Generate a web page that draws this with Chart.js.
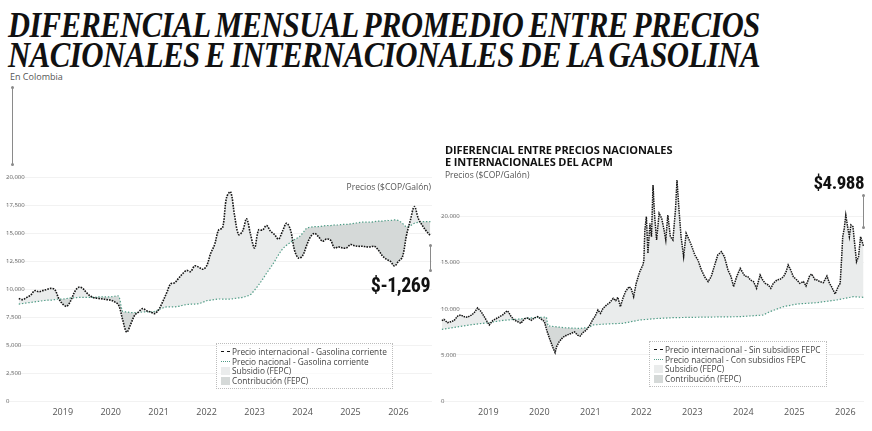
<!DOCTYPE html>
<html>
<head>
<meta charset="utf-8">
<script src="https://cdn.jsdelivr.net/npm/chart.js@4.4.1/dist/chart.umd.min.js"></script>
<style>
  html, body { margin: 0; padding: 0; background: #fff; }
  body { width: 872px; height: 431px; position: relative; overflow: hidden; font-family: "Open Sans", sans-serif; color: #555; }
  canvas { position: absolute; }
  .abs { position: absolute; white-space: nowrap; z-index: 2; }
  #title { left: 8px; top: 11px; font-family: "Liberation Serif", serif; font-weight: bold; font-style: italic;
           font-size: 35px; line-height: 30px; color: #111; letter-spacing: -0.6px; word-spacing: -2px; }
  #title div { transform-origin: 0 0; display: inline-block; }
  .small { font-size: 8.5px; color: #555; }
  .big { font-family: "Liberation Sans Narrow", "Roboto Condensed", "DejaVu Sans Condensed", sans-serif; font-weight: bold; color: #111; letter-spacing: -0.5px; }
  #subtitle { left: 445px; top: 144px; font-weight: bold; font-size: 11px; line-height: 12.3px; color: #111; letter-spacing: -0.1px; }
  .vline { position: absolute; width: 0; border-left: 1px solid #8a8a8a; z-index: 2; }
  .vline::before, .vline::after { content: ""; position: absolute; left: -2px; width: 3px; height: 3px; border-radius: 50%; background: #8a8a8a; }
  .vline::before { top: -1px; }
  .vline::after { bottom: -1px; }
  .legend { position: absolute; border: 1px dotted #bdbdbd; padding: 3px 6px 3px 4px; font-size: 8.3px; line-height: 9.6px; color: #444; z-index: 2; background: rgba(255,255,255,0.6); }
  .legend .row { display: flex; align-items: center; white-space: nowrap; }
  .legend .mk { width: 9px; margin-right: 2px; flex: none; }
  .legend .ln { height: 0; border-top-width: 1.5px; border-top-style: dotted; }
  .legend .sq { height: 8px; }
</style>
</head>
<body>
<div id="title" class="abs"></div>
<div class="abs small" style="left:10px; top:70px; font-size:9px;">En Colombia</div>
<div class="vline" style="left:12px; top:87px; height:78px;"></div>

<div class="abs small" style="right:441px; top:181px;">Precios ($COP/Galón)</div>
<div class="abs big" style="right:442px; top:273px; font-size:20px;">$-1,269</div>
<div class="vline" style="left:430px; top:245px; height:26px;"></div>

<div id="subtitle" class="abs"></div>
<div class="abs small" style="left:445px; top:169px;">Precios ($COP/Galón)</div>
<div class="abs big" style="right:8px; top:171px; font-size:19px;">$4.988</div>
<div class="vline" style="left:863px; top:195px; height:33px;"></div>

<div id="gasLegend" class="legend" style="left:216px; top:343px; width:165px;"></div>
<div id="acpmLegend" class="legend" style="left:649px; top:341px; width:166px;"></div>

<canvas id="gasChart" style="left:0; top:160px; width:436px; height:270px;"></canvas>
<canvas id="acpmChart" style="left:436px; top:160px; width:436px; height:270px;"></canvas>

<script>
// Titles
const titleLines = ['DIFERENCIAL MENSUAL PROMEDIO ENTRE PRECIOS', 'NACIONALES E INTERNACIONALES DE LA GASOLINA'];
const subtitleLines = ['DIFERENCIAL ENTRE PRECIOS NACIONALES', 'E INTERNACIONALES DEL ACPM'];

// Gasolina: monthly, first month Feb 2018
const gasFirstMonth = [2018, 2];
const gasIntl = [
  9200, 9100, 9300, 9500, 9900, 9800, 9900, 10000, 10100, 10000, 9200, 8700,
  8500, 9000, 9800, 10200, 10100, 9700, 9400, 9250, 9200, 9150, 9100, 9050,
  8900, 8600, 7300, 6200, 6900, 7700, 8000, 8300, 8100, 8000, 7850, 8200,
  8900, 9700, 10500, 10600, 11000, 11400, 11700, 11600, 12100, 12000, 11800, 12100,
  13200, 14000, 15300, 15500, 18200, 18700, 16600, 14900, 15200, 16300, 14900, 13700,
  15300, 15300, 15700, 15200, 14900, 14500, 15200, 15900, 15300, 13500, 12800, 13000,
  13900, 14700, 15000, 14700, 14300, 14500, 14400, 13700, 13800, 13700, 13700, 14000,
  13900, 13850, 13850, 13800, 13800, 13850, 13500, 13000, 12700, 12500, 12100, 12500,
  12900, 14800, 16200, 17400, 16300, 15700, 15200, 14800
];
const gasNat = [
  8700, 8750, 8800, 8850, 8900, 8950, 9000, 9050, 9050, 9100, 9150, 9150,
  9200, 9250, 9250, 9300, 9300, 9300, 9300, 9300, 9350, 9350, 9350, 9350,
  9400, 9400, 8050, 8000, 7950, 7950, 7950, 8000, 8000, 8000, 8050, 8200,
  8350, 8450, 8450, 8450, 8500, 8600, 8650, 8700, 8700, 8750, 8850, 9000,
  9050, 9100, 9150, 9150, 9150, 9150, 9200, 9250, 9300, 9400, 9550, 9950,
  10400, 10900, 11450, 11950, 12500, 13100, 13600, 13950, 14200, 14450, 14650, 15000,
  15450, 15550, 15600, 15600, 15650, 15700, 15700, 15750, 15750, 15800, 15800, 15850,
  15900, 15950, 16000, 16000, 16000, 16050, 16100, 16100, 16150, 16150, 16200, 16150,
  15900, 15600, 15700, 15900, 16000, 16050, 16050, 16050
];
const gasTicks = ['0', '2,500', '5,000', '7,500', '10,000', '12,500', '15,000', '17,500', '20,000'];
const gasLabels = ['Precio internacional - Gasolina corriente', 'Precio nacional - Gasolina corriente', 'Subsidio (FEPC)', 'Contribución (FEPC)'];

// ACPM: near-daily series, read as decimal years
const acpmDates = [
  2018.09, 2018.13, 2018.20, 2018.27, 2018.33, 2018.40, 2018.46, 2018.53, 2018.59, 2018.66, 2018.72, 2018.79,
  2018.86, 2018.92, 2018.99, 2019.02, 2019.09, 2019.15, 2019.22, 2019.28, 2019.35, 2019.38, 2019.45, 2019.51,
  2019.58, 2019.64, 2019.71, 2019.77, 2019.84, 2019.90, 2019.97, 2020.03, 2020.10, 2020.145, 2020.20, 2020.26,
  2020.31, 2020.34, 2020.39, 2020.46, 2020.54, 2020.62, 2020.69, 2020.75, 2020.80, 2020.85, 2020.92, 2020.98,
  2021.05, 2021.09, 2021.15, 2021.20, 2021.25, 2021.32, 2021.38, 2021.45, 2021.50, 2021.54, 2021.59, 2021.64,
  2021.69, 2021.76, 2021.80, 2021.85, 2021.90, 2021.97, 2022.03, 2022.05, 2022.07, 2022.10, 2022.13, 2022.17,
  2022.20, 2022.23, 2022.26, 2022.30, 2022.35, 2022.40, 2022.44, 2022.48, 2022.52, 2022.57, 2022.62, 2022.67,
  2022.70, 2022.74, 2022.78, 2022.83, 2022.88, 2022.94, 2022.98, 2023.05, 2023.11, 2023.18, 2023.24, 2023.31,
  2023.37, 2023.44, 2023.50, 2023.57, 2023.63, 2023.70, 2023.76, 2023.81, 2023.87, 2023.94, 2024.03, 2024.09,
  2024.14, 2024.20, 2024.26, 2024.33, 2024.38, 2024.43, 2024.49, 2024.54, 2024.59, 2024.66, 2024.72, 2024.79,
  2024.84, 2024.88, 2024.93, 2024.98, 2025.05, 2025.11, 2025.18, 2025.23, 2025.30, 2025.34, 2025.41, 2025.45,
  2025.50, 2025.57, 2025.64, 2025.69, 2025.73, 2025.80, 2025.86, 2025.90, 2025.93, 2025.95, 2025.98, 2026.01,
  2026.04, 2026.08, 2026.11, 2026.15, 2026.19, 2026.22, 2026.26, 2026.30, 2026.33, 2026.36
];
const acpmIntl = [
  8710, 8860, 8500, 8600, 8740, 9220, 9330, 9150, 9080, 9300, 9540, 10100,
  9700, 9150, 8500, 8260, 8740, 8920, 9150, 9330, 9700, 9770, 9150, 8780,
  8600, 8430, 8920, 8990, 8740, 9000, 9150, 8920, 8620, 7700, 6800, 5900,
  5240, 5900, 6430, 6900, 7150, 7330, 7500, 7150, 7040, 7400, 7690, 8110,
  8850, 9150, 9870, 9510, 10050, 10420, 10670, 11140, 10890, 11250, 10240, 11140,
  11860, 12400, 12220, 11320, 12770, 14030, 14760, 15200, 18550, 20000, 16020, 19280,
  17830, 23430, 20180, 17470, 20360, 19820, 18730, 17470, 20180, 17830, 17470, 20720,
  23980, 20720, 17830, 15660, 18190, 17470, 16930, 15840, 15300, 14210, 13490, 12950,
  13490, 14760, 15840, 16200, 15660, 14210, 13490, 12400, 13490, 14390, 13560, 13490,
  13130, 12950, 12230, 13670, 13130, 12770, 12590, 12230, 12770, 13130, 13200, 13490,
  14030, 14760, 14210, 13490, 13130, 12770, 12950, 12480, 13560, 13780, 13130, 13130,
  12950, 12840, 13560, 12770, 12400, 11610, 12400, 12770, 15660, 17830, 18730, 20180,
  19100, 17830, 19100, 18920, 16750, 15120, 15660, 17830, 17290, 16750
];
const acpmNatDates = [
  2018.09, 2018.40, 2018.63, 2019.00, 2019.28, 2019.60, 2019.93, 2020.14, 2020.17, 2020.50,
  2020.80, 2020.98, 2021.05, 2021.30, 2021.64, 2021.97, 2022.30, 2022.62, 2023.00, 2023.50,
  2023.93, 2024.39, 2024.52, 2024.79, 2025.05, 2025.44, 2025.83, 2026.16, 2026.36
];
const acpmNat = [
  7780, 8050, 8250, 8500, 8740, 8900, 9060, 9100, 8150, 7950,
  7870, 8000, 8250, 8350, 8430, 8790, 8950, 9040, 9080, 9120,
  9150, 9330, 9690, 10240, 10520, 10670, 10960, 11320, 11250
];
const acpmTicks = ['0', '5.000', '10.000', '15.000', '20.000'];
const acpmLabels = ['Precio internacional - Sin subsidios FEPC', 'Precio nacional - Con subsidios FEPC', 'Subsidio (FEPC)', 'Contribución (FEPC)'];

const yearTicks = [2019, 2020, 2021, 2022, 2023, 2024, 2025, 2026];

const INTL = '#141414', NAT = '#4f9c86', SUBS = '#eaecec', CONTR = '#d5d9d8';

const byId = (id) => document.getElementById(id);
const toPoints = (xs, ys) => ys.map((y, i) => ({ x: xs[i], y }));

// monthly x positions for gasolina
const gasMonths = gasIntl.map((_, i) => gasFirstMonth[0] + (gasFirstMonth[1] - 1 + i) / 12);

function lineSet(label, data, color, dash, width, extra) {
  return Object.assign({
    label, data, borderColor: color, borderDash: dash, borderWidth: width,
    pointRadius: 0, pointHoverRadius: 0, fill: false
  }, extra || {});
}

function makeOptions(xr, yr, tickLabels, step, pad) {
  return {
    responsive: false, animation: false, events: [],
    layout: { padding: pad },
    plugins: { legend: { display: false }, tooltip: { enabled: false }, filler: { drawTime: 'beforeDatasetsDraw' } },
    scales: {
      x: {
        type: 'linear', min: xr[0], max: xr[1],
        grid: { display: false, drawTicks: false }, border: { display: false },
        afterFit: (s) => { s.height = pad.xh; },
        afterBuildTicks: (s) => { s.ticks = yearTicks.map(v => ({ value: v })); },
        ticks: { padding: pad.xp, color: '#555', font: { family: 'Open Sans', size: 9 }, maxRotation: 0, autoSkip: false,
                 callback: (v) => String(v) }
      },
      y: {
        min: yr[0], max: yr[1],
        border: { display: false },
        grid: { drawTicks: false, color: (c) => c.tick && c.tick.value <= step * (tickLabels.length - 1) ? '#efefef' : 'rgba(0,0,0,0)', lineWidth: 0.8 },
        afterFit: (s) => { s.width = 0; },
        afterBuildTicks: (s) => { s.ticks = tickLabels.map((_, i) => ({ value: i * step })); },
        ticks: { mirror: true, padding: pad.yp, color: '#666', font: { family: 'Open Sans', size: 6 },
                 callback: (v) => tickLabels[Math.round(v / step)] }
      }
    }
  };
}

function buildCanvas(id, w, h) {
  const c = byId(id);
  c.width = w; c.height = h;
  return c.getContext('2d');
}

function initialiseGasChart() {
  const ctx = buildCanvas('gasChart', 436, 270);
  new Chart(ctx, {
    type: 'line',
    data: { datasets: [
      lineSet(gasLabels[0], toPoints(gasMonths, gasIntl), INTL, [1.6, 1.1], 1.6,
              { tension: 0.35, fill: { target: 1, above: SUBS, below: CONTR } }),
      lineSet(gasLabels[1], toPoints(gasMonths, gasNat), NAT, [1.4, 1.8], 1.2, { tension: 0.35 })
    ]},
    options: makeOptions([2017.817, 2026.70], [0, 20000], gasTicks, 2500,
                         { left: 6, right: 4, top: 17.3, bottom: 0, xh: 28.3, xp: 5, yp: 0 })
  });
}

function initialiseAcpmChart() {
  const ctx = buildCanvas('acpmChart', 436, 270);
  new Chart(ctx, {
    type: 'line',
    data: { datasets: [
      lineSet(acpmLabels[0], toPoints(acpmDates, acpmIntl), INTL, [1.5, 0.9], 1.5,
              { tension: 0, fill: { target: 1, above: SUBS, below: CONTR } }),
      lineSet(acpmLabels[1], toPoints(acpmNatDates, acpmNat), NAT, [1.4, 1.8], 1.2, { tension: 0 })
    ]},
    options: makeOptions([2018.053, 2026.367], [0, 25000], acpmTicks, 5000,
                         { left: 4, right: 8, top: 10.6, bottom: 0, xh: 29, xp: 6, yp: 1 })
  });
}

function buildLegend(id, labels) {
  const marks = [
    `<span class="mk ln" style="border-top-color:${INTL}; border-top-style:dashed;"></span>`,
    `<span class="mk ln" style="border-top-color:${NAT};"></span>`,
    `<span class="mk sq" style="background:${SUBS};"></span>`,
    `<span class="mk sq" style="background:${CONTR};"></span>`
  ];
  byId(id).innerHTML = labels.map((l, i) => `<div class="row">${marks[i]}<span>${l}</span></div>`).join('');
}

function buildTitles() {
  byId('title').innerHTML = titleLines.map(t => `<div>${t}</div>`).join('<br>');
  byId('title').querySelectorAll('div').forEach(d => {
    d.style.transform = `scaleX(${752 / d.offsetWidth})`;
  });
  byId('subtitle').innerHTML = subtitleLines.join('<br>');
}

buildTitles();
buildLegend('gasLegend', gasLabels);
buildLegend('acpmLegend', acpmLabels);
initialiseGasChart();
initialiseAcpmChart();
</script>
</body>
</html>
